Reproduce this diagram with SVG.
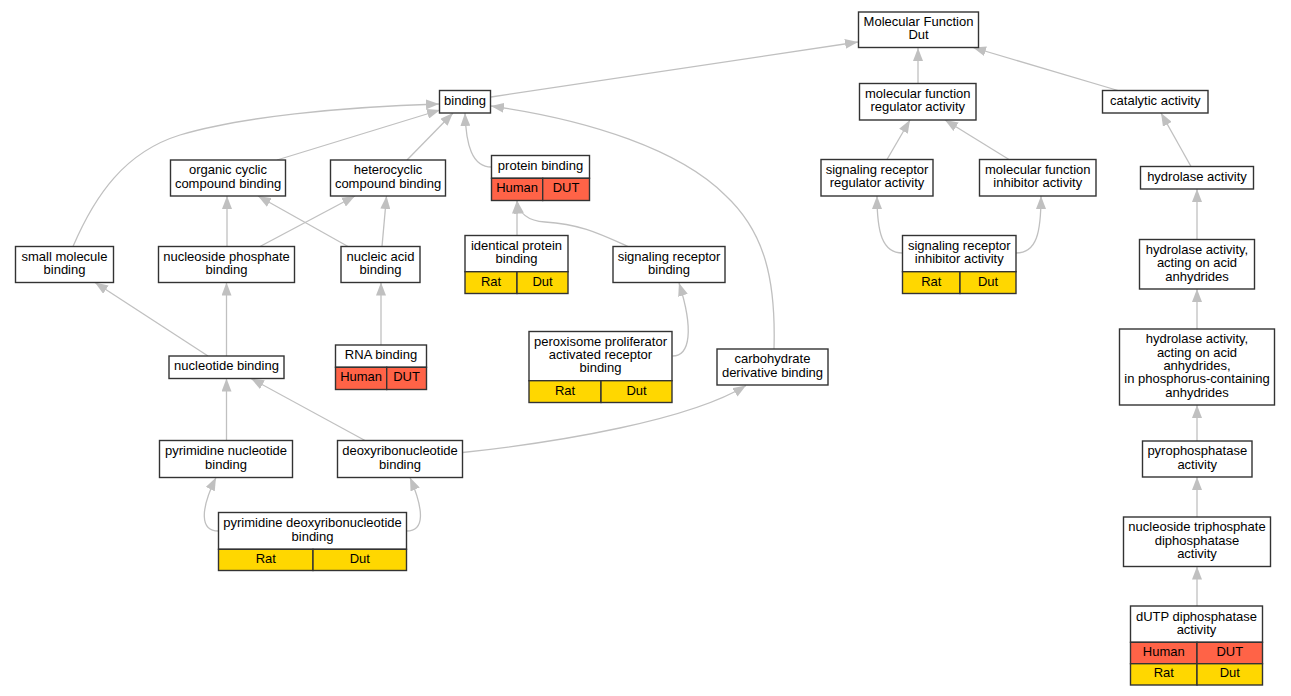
<svg xmlns="http://www.w3.org/2000/svg" width="1291" height="696" viewBox="0 0 1291 696">
<style>
.n{fill:#fff;stroke:#333;stroke-width:1.4}
.r{fill:#ff6347;stroke:#333;stroke-width:1.4}
.y{fill:#ffd700;stroke:#333;stroke-width:1.4}
.d{stroke:#333;stroke-width:1.4;fill:none}
text{font-family:"Liberation Sans",Arial,sans-serif;font-size:13px;fill:#000;text-anchor:middle}
.e path{fill:none;stroke:#c0c0c0;stroke-width:1.3;marker-end:url(#arr)}
</style>
<defs>
<marker id="arr" viewBox="0 0 13 10" refX="13" refY="5" markerWidth="13" markerHeight="10" markerUnits="userSpaceOnUse" orient="auto"><path d="M0,0L13,5L0,10z" fill="#c0c0c0"/></marker>
</defs>
<rect width="1291" height="696" fill="#fff"/>
<g class="e" id="edges">
<path d="M491,97 L858,42"/>
<path d="M918,83.5 L918,48"/>
<path d="M1118,90.5 L973,47.5"/>
<path d="M887,159.5 L910,120"/>
<path d="M1009,159.5 L945,120"/>
<path d="M1191,166.5 L1161,113"/>
<path d="M902.5,253 C882,253 877,232 877,196"/>
<path d="M1016,253 C1037,253 1041,232 1041,196"/>
<path d="M1197,239.5 L1197,189"/>
<path d="M1197,329 L1197,289"/>
<path d="M1197,441 L1197,405"/>
<path d="M1197,517 L1197,477"/>
<path d="M1197,606 L1197,566.5"/>
<path d="M73,246.5 C95,195 125,152 180,135 C240,117 340,107 439,104"/>
<path d="M277,160 L440,110"/>
<path d="M407,160 L453,113"/>
<path d="M491.5,167 C472,167 466,145 465,113"/>
<path d="M774,349 C776,280 765,232 725,195 C680,150 590,120 491,106"/>
<path d="M227,246.5 L227,196"/>
<path d="M260,246.5 L355,196"/>
<path d="M348,246.5 L258,196"/>
<path d="M382,246.5 L386.5,196"/>
<path d="M208,356 L95,282.5"/>
<path d="M226.5,356 L226.5,282.5"/>
<path d="M381,345 L381,282.5"/>
<path d="M517,235.5 L517,200.5"/>
<path d="M628,246.5 C600,234 580,224 545,222 C528,221 519,214 517,200.5"/>
<path d="M672.5,356 C690,356 694,330 679,283"/>
<path d="M226.5,440.5 L226.5,378.5"/>
<path d="M365,440.5 L251,378.5"/>
<path d="M462.5,452.5 C560,442 690,420 746,385.5"/>
<path d="M218.5,531 C200,531 200,510 216,477.5"/>
<path d="M406.5,531 C425,531 424,510 410,477.5"/>
</g>
<g id="mf"><rect class="n" x="858.5" y="12" width="120" height="35.5"/><text x="918.5" y="26.1">Molecular Function</text><text x="918.5" y="39.4">Dut</text></g>
<g id="binding"><rect class="n" x="439.5" y="90.5" width="51" height="22.5"/><text x="465" y="104.75">binding</text></g>
<g id="organic"><rect class="n" x="170.5" y="160" width="115" height="36"/><text x="228" y="174.35">organic cyclic</text><text x="228" y="187.65">compound binding</text></g>
<g id="heterocyclic"><rect class="n" x="330.5" y="160" width="115" height="36"/><text x="388" y="174.35">heterocyclic</text><text x="388" y="187.65">compound binding</text></g>
<g id="smallmol"><rect class="n" x="15.5" y="246.5" width="98" height="36"/><text x="64.5" y="260.85">small molecule</text><text x="64.5" y="274.15">binding</text></g>
<g id="nucphos"><rect class="n" x="158.5" y="246.5" width="136" height="36"/><text x="226.5" y="260.85">nucleoside phosphate</text><text x="226.5" y="274.15">binding</text></g>
<g id="nucacid"><rect class="n" x="341" y="246.5" width="79" height="36"/><text x="380.5" y="260.85">nucleic acid</text><text x="380.5" y="274.15">binding</text></g>
<g id="nucleotide"><rect class="n" x="169" y="356" width="115" height="22.5"/><text x="226.5" y="370.25">nucleotide binding</text></g>
<g id="rna"><rect class="n" x="335.5" y="345" width="91" height="22.3"/><rect class="r" x="335.5" y="367.3" width="51.2" height="22.2"/><rect class="r" x="386.7" y="367.3" width="39.8" height="22.2"/><text x="381" y="359.15">RNA binding</text><text x="361.1" y="381.4">Human</text><text x="406.6" y="381.4">DUT</text></g>
<g id="protein"><rect class="n" x="491.5" y="155.5" width="98" height="22.8"/><rect class="r" x="491.5" y="178.3" width="51.2" height="22.2"/><rect class="r" x="542.7" y="178.3" width="46.8" height="22.2"/><text x="540.5" y="169.9">protein binding</text><text x="517.1" y="192.4">Human</text><text x="566.1" y="192.4">DUT</text></g>
<g id="identical"><rect class="n" x="465" y="235.5" width="103" height="36.2"/><rect class="y" x="465" y="271.7" width="52" height="21.8"/><rect class="y" x="517" y="271.7" width="51" height="21.8"/><text x="516.5" y="249.95">identical protein</text><text x="516.5" y="263.25">binding</text><text x="491" y="285.6">Rat</text><text x="542.5" y="285.6">Dut</text></g>
<g id="sigrecbind"><rect class="n" x="613" y="246.5" width="112" height="36"/><text x="669" y="260.85">signaling receptor</text><text x="669" y="274.15">binding</text></g>
<g id="peroxisome"><rect class="n" x="529" y="331.5" width="143" height="49.2"/><rect class="y" x="529" y="380.7" width="72" height="21.8"/><rect class="y" x="601" y="380.7" width="71" height="21.8"/><text x="600.5" y="345.8">peroxisome proliferator</text><text x="600.5" y="359.1">activated receptor</text><text x="600.5" y="372.4">binding</text><text x="565" y="394.6">Rat</text><text x="636.5" y="394.6">Dut</text></g>
<g id="carbo"><rect class="n" x="717" y="349" width="111" height="36"/><text x="772.5" y="363.35">carbohydrate</text><text x="772.5" y="376.65">derivative binding</text></g>
<g id="mfreg"><rect class="n" x="859.5" y="83.5" width="116.5" height="36.5"/><text x="917.75" y="98.1">molecular function</text><text x="917.75" y="111.4">regulator activity</text></g>
<g id="catalytic"><rect class="n" x="1102.5" y="90.5" width="105.5" height="22.5"/><text x="1155.25" y="104.75">catalytic activity</text></g>
<g id="sigreg"><rect class="n" x="821" y="159.5" width="112" height="36.5"/><text x="877" y="174.1">signaling receptor</text><text x="877" y="187.4">regulator activity</text></g>
<g id="mfinh"><rect class="n" x="979.5" y="159.5" width="116.5" height="36.5"/><text x="1037.75" y="174.1">molecular function</text><text x="1037.75" y="187.4">inhibitor activity</text></g>
<g id="hydrolase"><rect class="n" x="1140.5" y="166.5" width="113" height="22.5"/><text x="1197" y="180.75">hydrolase activity</text></g>
<g id="siginh"><rect class="n" x="902.5" y="235.5" width="113.5" height="36.2"/><rect class="y" x="902.5" y="271.7" width="57.5" height="21.8"/><rect class="y" x="960" y="271.7" width="56" height="21.8"/><text x="959.25" y="249.95">signaling receptor</text><text x="959.25" y="263.25">inhibitor activity</text><text x="931.25" y="285.6">Rat</text><text x="988" y="285.6">Dut</text></g>
<g id="hydacid"><rect class="n" x="1139.5" y="239.5" width="115" height="49.5"/><text x="1197" y="253.95">hydrolase activity,</text><text x="1197" y="267.25">acting on acid</text><text x="1197" y="280.55">anhydrides</text></g>
<g id="hydphos"><rect class="n" x="1119.5" y="329" width="155" height="76"/><text x="1197" y="343.4">hydrolase activity,</text><text x="1197" y="356.7">acting on acid</text><text x="1197" y="370">anhydrides,</text><text x="1197" y="383.3">in phosphorus-containing</text><text x="1197" y="396.6">anhydrides</text></g>
<g id="pyrophos"><rect class="n" x="1142.5" y="441" width="109.5" height="36"/><text x="1197.25" y="455.35">pyrophosphatase</text><text x="1197.25" y="468.65">activity</text></g>
<g id="ntp"><rect class="n" x="1123.5" y="517" width="147" height="49.5"/><text x="1197" y="531.45">nucleoside triphosphate</text><text x="1197" y="544.75">diphosphatase</text><text x="1197" y="558.05">activity</text></g>
<g id="dutp"><rect class="n" x="1130.5" y="606" width="132" height="36.3"/><rect class="r" x="1130.5" y="642.3" width="66.5" height="21.4"/><rect class="r" x="1197" y="642.3" width="65.5" height="21.4"/><rect class="y" x="1130.5" y="663.7" width="66.5" height="21.3"/><rect class="y" x="1197" y="663.7" width="65.5" height="21.3"/><text x="1196.5" y="620.5">dUTP diphosphatase</text><text x="1196.5" y="633.8">activity</text><text x="1163.75" y="656">Human</text><text x="1229.75" y="656">DUT</text><text x="1163.75" y="677.35">Rat</text><text x="1229.75" y="677.35">Dut</text></g>
<g id="pyrnuc"><rect class="n" x="159.5" y="440.5" width="133" height="37"/><text x="226" y="455.35">pyrimidine nucleotide</text><text x="226" y="468.65">binding</text></g>
<g id="deoxy"><rect class="n" x="337.5" y="440.5" width="125" height="37"/><text x="400" y="455.35">deoxyribonucleotide</text><text x="400" y="468.65">binding</text></g>
<g id="pyrdeoxy"><rect class="n" x="218.5" y="512.5" width="188" height="36.8"/><rect class="y" x="218.5" y="549.3" width="94.5" height="21.2"/><rect class="y" x="313" y="549.3" width="93.5" height="21.2"/><text x="312.5" y="527.25">pyrimidine deoxyribonucleotide</text><text x="312.5" y="540.55">binding</text><text x="265.75" y="562.9">Rat</text><text x="359.75" y="562.9">Dut</text></g>
</svg>
